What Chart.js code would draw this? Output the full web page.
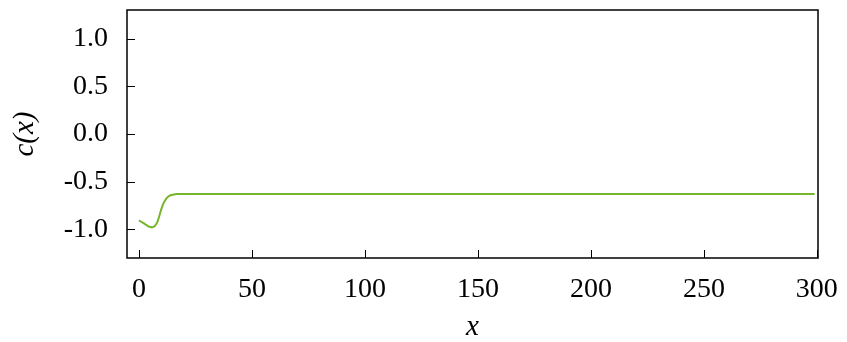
<!DOCTYPE html>
<html>
<head>
<meta charset="utf-8">
<script src="https://cdn.jsdelivr.net/npm/chart.js@4"></script>
<style>
  html, body { margin: 0; padding: 0; background: #fff; }
  #wrap { width: 847px; height: 342px; }
</style>
</head>
<body>
<div id="wrap"><canvas id="c-chart" width="847" height="342"></canvas></div>
<script>
var xs = [0, 1, 2, 3, 4, 5, 6, 7, 8, 9, 10, 11, 12, 13, 14, 15, 16, 17, 18, 20, 25, 30, 50, 100, 150, 200, 250, 299];
var cs = [-0.905, -0.92, -0.935, -0.95, -0.965, -0.975, -0.977, -0.965, -0.93, -0.86, -0.78, -0.72, -0.68, -0.655,
          -0.642, -0.636, -0.632, -0.63, -0.629, -0.628, -0.628, -0.628, -0.628, -0.628, -0.628, -0.628, -0.628, -0.628];
var xTicks = [0, 50, 100, 150, 200, 250, 300];
var yTicks = [-1.0, -0.5, 0.0, 0.5, 1.0];

var lineColor = '#77b52d';
var serif = "'Liberation Serif', 'DejaVu Serif', serif";

var pts = [];
for (let i = 0; i < xs.length; i++) {
    pts.push({ x: xs[i], y: cs[i] });
}

// frame round the plot area plus inward ticks on bottom and left
const framePlugin = {
    id: 'frame',
    afterDraw(chart) {
        const ctx = chart.ctx;
        const a = chart.chartArea;
        const sx = chart.scales.x, sy = chart.scales.y;
        ctx.save();
        ctx.strokeStyle = '#000';
        ctx.lineWidth = 1;
        ctx.beginPath();
        xTicks.forEach(v => {
            const px = Math.round(sx.getPixelForValue(v)) + 0.5;
            ctx.moveTo(px, a.bottom);
            ctx.lineTo(px, a.bottom - 8);
        });
        yTicks.forEach(v => {
            const py = Math.round(sy.getPixelForValue(v)) + 0.5;
            ctx.moveTo(a.left, py);
            ctx.lineTo(a.left + 8, py);
        });
        ctx.stroke();
        ctx.lineWidth = 1.5;
        ctx.strokeRect(a.left, a.top, a.right - a.left, a.bottom - a.top);
        ctx.restore();
    }
};

new Chart(document.getElementById('c-chart'), {
    type: 'line',
    data: {
        datasets: [{
            data: pts,
            borderColor: lineColor,
            borderWidth: 2,
            pointRadius: 0,
            fill: false,
            cubicInterpolationMode: 'monotone'
        }]
    },
    options: {
        responsive: false,
        animation: false,
        layout: { padding: { top: 10, right: 29, left: 0, bottom: 0 } },
        plugins: { legend: { display: false }, tooltip: { enabled: false } },
        scales: {
            x: {
                type: 'linear',
                min: -5.3,
                max: 300.5,
                afterBuildTicks: s => { s.ticks = xTicks.map(v => ({ value: v })); },
                afterFit: s => { s.height = 84; s.paddingLeft = 0; s.paddingRight = 0; },
                grid: { display: false, drawTicks: false },
                border: { display: false },
                ticks: {
                    padding: 15,
                    color: '#000',
                    font: { family: serif, size: 28 },
                    callback: v => String(v)
                },
                title: {
                    display: true,
                    text: 'x',
                    color: '#000',
                    font: { family: serif, size: 29, style: 'italic', lineHeight: 1.0 },
                    padding: { top: 0, bottom: 0 }
                }
            },
            y: {
                min: -1.3,
                max: 1.3,
                afterBuildTicks: s => { s.ticks = yTicks.map(v => ({ value: v })); },
                afterFit: s => { s.width = 127; s.paddingTop = 0; s.paddingBottom = 0; },
                grid: { display: false, drawTicks: false },
                border: { display: false },
                ticks: {
                    padding: 19,
                    color: '#000',
                    font: { family: serif, size: 28 },
                    callback: v => v.toFixed(1)
                },
                title: {
                    display: true,
                    text: 'c(x)',
                    color: '#000',
                    font: { family: serif, size: 29, style: 'italic' },
                    padding: { top: 8, bottom: 0 }
                }
            }
        }
    },
    plugins: [framePlugin]
});
</script>
</body>
</html>
